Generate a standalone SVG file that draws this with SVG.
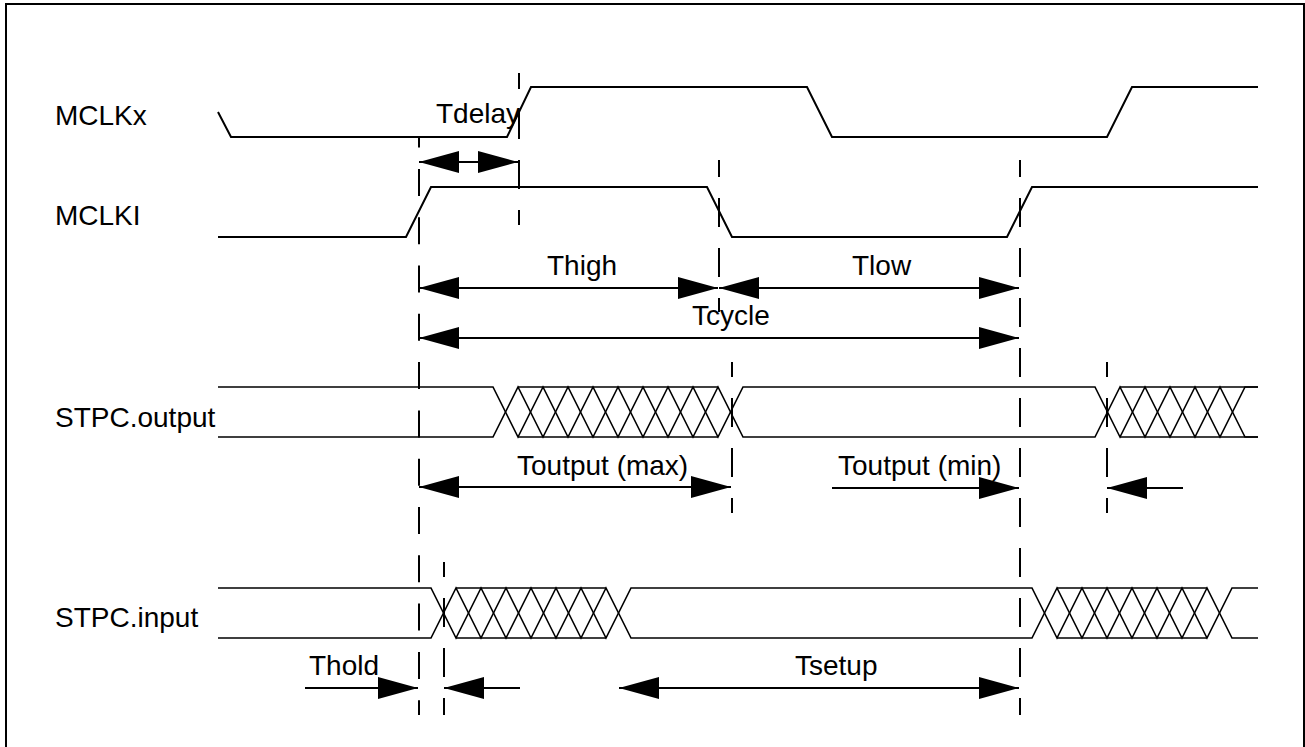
<svg xmlns="http://www.w3.org/2000/svg" width="1305" height="747" viewBox="0 0 1305 747">
<style>
text{font-family:"Liberation Sans",Arial,Helvetica,sans-serif;font-size:28px;fill:#000}
.sig{fill:none;stroke:#000;stroke-width:2;stroke-linejoin:miter}
.bus{fill:none;stroke:#000;stroke-width:1.6}
.guide{fill:none;stroke:#000;stroke-width:2}
.g50{stroke-dasharray:29 21}
.dim{fill:none;stroke:#000;stroke-width:2}
.frame{fill:none;stroke:#000;stroke-width:2}
</style>
<defs>
<marker id="ah" viewBox="0 -11 40 22" refX="40" refY="0" markerWidth="40" markerHeight="22" markerUnits="userSpaceOnUse" orient="auto-start-reverse" overflow="visible">
<path d="M0,-11 L40,0 L0,11 Z" fill="#000"/>
</marker>
</defs>
<rect width="1305" height="747" fill="#fff"/>
<path class="frame" d="M6,748 V4 H1304 V748"/>

<g id="mclkx">
<text x="55" y="125">MCLKx</text>
<path class="sig" d="M218,112 L231,137 L507,137 L531,87 L807,87 L832,137 L1107,137 L1132,87 L1258,87"/>
</g>

<g id="mclki">
<text x="55" y="225">MCLKI</text>
<path class="sig" d="M218,237 L406,237 L431,187 L707,187 L732,237 L1007,237 L1032,187 L1258,187"/>
</g>

<g id="stpc-output">
<text x="55" y="427">STPC.output</text>
<path class="bus" d="M218,387 H493 L518,437 L543,387 L568,437 L593,387 L618,437 L643,387 L668,437 L693,387 L718,437 L743,387 H1095 L1120,437 L1145,387 L1170,437 L1195,387 L1220,437 L1245,387 H1258"/>
<path class="bus" d="M218,437 H493 L518,387 L543,437 L568,387 L593,437 L618,387 L643,437 L668,387 L693,437 L718,387 L743,437 H1095 L1120,387 L1145,437 L1170,387 L1195,437 L1220,387 L1245,437 H1258"/>
<path class="bus" d="M518,387 H718 M518,437 H718 M1120,387 H1258 M1120,437 H1258"/>
</g>

<g id="stpc-input">
<text x="55" y="627">STPC.input</text>
<path class="bus" d="M218,588 H431 L456,638 L481,588 L506,638 L531,588 L556,638 L581,588 L606,638 L631,588 H1032 L1057,638 L1082,588 L1107,638 L1132,588 L1157,638 L1182,588 L1207,638 L1232,588 H1258"/>
<path class="bus" d="M218,638 H431 L456,588 L481,638 L506,588 L531,638 L556,588 L581,638 L606,588 L631,638 H1032 L1057,588 L1082,638 L1107,588 L1132,638 L1157,588 L1182,638 L1207,588 L1232,638 H1258"/>
<path class="bus" d="M456,588 H606 M456,638 H606 M1057,588 H1207 M1057,638 H1207"/>
</g>

<g id="guides">
<line class="guide" x1="419" y1="137" x2="419" y2="715" stroke-dasharray="27 21.3" stroke-dashoffset="16.4"/>
<line class="guide g50" x1="444" y1="562" x2="444" y2="715" stroke-dashoffset="14"/>
<line class="guide g50" x1="519" y1="73" x2="519" y2="225" stroke-dashoffset="13"/>
<line class="guide g50" x1="719" y1="160" x2="719" y2="312" stroke-dashoffset="12"/>
<line class="guide g50" x1="732" y1="362" x2="732" y2="513" stroke-dashoffset="14"/>
<line class="guide g50" x1="1020" y1="160" x2="1020" y2="715" stroke-dashoffset="12"/>
<line class="guide g50" x1="1107" y1="362" x2="1107" y2="513" stroke-dashoffset="14"/>
</g>

<g id="connectors">
<line class="dim" x1="419" y1="162" x2="518" y2="162" marker-start="url(#ah)" marker-end="url(#ah)"/>
<line class="dim" x1="419" y1="288" x2="718" y2="288" marker-start="url(#ah)" marker-end="url(#ah)"/>
<line class="dim" x1="719" y1="288" x2="1019" y2="288" marker-start="url(#ah)" marker-end="url(#ah)"/>
<line class="dim" x1="419" y1="338" x2="1019" y2="338" marker-start="url(#ah)" marker-end="url(#ah)"/>
<line class="dim" x1="419" y1="487" x2="731" y2="487" marker-start="url(#ah)" marker-end="url(#ah)"/>
<line class="dim" x1="832" y1="488" x2="1019" y2="488" marker-end="url(#ah)"/>
<line class="dim" x1="1183" y1="488" x2="1107" y2="488" marker-end="url(#ah)"/>
<line class="dim" x1="305" y1="688" x2="418" y2="688" marker-end="url(#ah)"/>
<line class="dim" x1="520" y1="688" x2="444" y2="688" marker-end="url(#ah)"/>
<line class="dim" x1="619" y1="688" x2="1019" y2="688" marker-start="url(#ah)" marker-end="url(#ah)"/>
</g>

<g id="labels">
<text x="436" y="123">Tdelay</text>
<text x="547" y="275">Thigh</text>
<text x="852" y="275">Tlow</text>
<text x="692" y="325">Tcycle</text>
<text x="517" y="475">Toutput (max)</text>
<text x="838" y="475">Toutput (min)</text>
<text x="309" y="675">Thold</text>
<text x="795" y="675">Tsetup</text>
</g>
</svg>
